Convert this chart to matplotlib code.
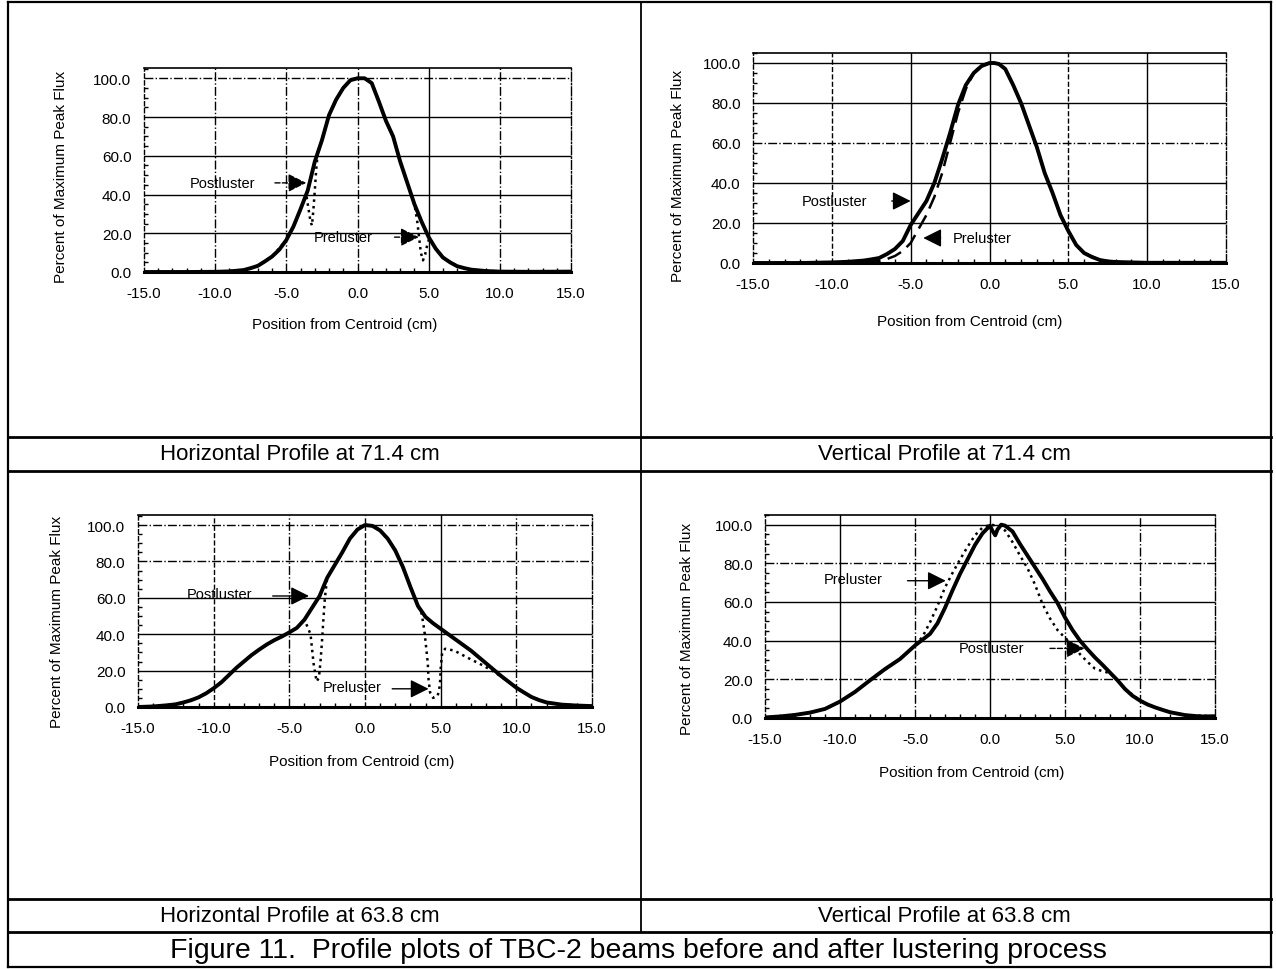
"""
Figure 11 - profile plots of TBC-2 beams before and after lustering.
Four panels in a bordered table, saved to out.png.
"""

import matplotlib
matplotlib.use("Agg")
import matplotlib.pyplot as plt
from matplotlib.lines import Line2D
from matplotlib.ticker import MultipleLocator, FormatStrFormatter

plt.rcParams.update({
    "font.family": ["Liberation Sans", "DejaVu Sans"],
    "font.size": 10.5,
})

# ── Data ────────────────────────────────────────────────────────────────────
x_ticks = [-15, -10, -5, 0, 5, 10, 15]
y_ticks = [0, 20, 40, 60, 80, 100]

row_labels = [["Horizontal Profile at 71.4 cm", "Vertical Profile at 71.4 cm"],
              ["Horizontal Profile at 63.8 cm", "Vertical Profile at 63.8 cm"]]
caption = "Figure 11.  Profile plots of TBC-2 beams before and after lustering process"

# (a) horizontal, 71.4 cm
h71_post_x = [-15, -12, -10, -9, -8, -7.5, -7, -6.5, -6, -5.5, -5, -4.5, -4, -3.5, -3, -2.5,
              -2, -1.5, -1, -0.5, 0, 0.5, 1, 1.5, 2, 2.5, 3, 3.5, 4, 4.5, 5, 5.5, 6, 6.5,
              7, 7.5, 8, 9, 10, 12, 15]
h71_post_y = [0, 0, 0.1, 0.3, 1.0, 2.0, 3.2, 5.5, 8, 11.5, 16.5, 23.5, 32.5, 42, 57, 68,
              81, 89, 95, 99, 100, 100, 97.5, 88, 78, 70, 57, 46, 35, 26, 18, 12, 7.5, 5,
              3, 2, 1.2, 0.5, 0.2, 0.1, 0.2]
h71_pre_x = [-15, -10, -8, -7, -6, -5, -4.5, -4, -3.6, -3.45, -3.3, -3.2, -3.1, -3.0, -2.9,
             -2.8, -2.5, -2, -1.5, -1, -0.5, 0, 0.5, 1, 1.5, 2, 2.5, 3, 3.5, 4, 4.2, 4.45,
             4.6, 4.75, 4.9, 5.05, 5.5, 6, 7, 8, 10, 15]
h71_pre_y = [0, 0.1, 1.0, 3.2, 8, 16.5, 23.5, 32.5, 40, 33, 26, 24, 32, 42, 53,
             61, 68, 81, 89, 95, 99, 100, 100, 97.5, 88, 78, 70, 57, 46, 35, 26, 10,
             6, 9, 14, 17.5, 12, 7.5, 3, 1.2, 0.2, 0.2]

# (b) vertical, 71.4 cm
v71_post_x = [-15, -12, -10, -9, -8, -7.5, -7, -6.5, -6, -5.5, -5, -4.5, -4, -3.5, -3, -2.5,
              -2, -1.5, -1, -0.5, 0, 0.3, 0.6, 1, 1.5, 2, 2.5, 3, 3.5, 4, 4.5, 5, 5.5, 6,
              6.5, 7, 7.5, 8, 9, 10, 12, 15]
v71_post_y = [0, 0, 0.3, 0.6, 1.2, 1.8, 2.5, 4.5, 7, 11, 19, 25, 31, 40, 52, 65,
              79, 89, 95, 98.5, 100, 100, 99.5, 97, 89, 80, 69, 58, 45, 35, 24, 16, 9, 5,
              3, 1.5, 0.8, 0.5, 0.3, 0.1, 0.1, 0.1]
v71_pre_x = [-15, -10, -8, -7, -6.5, -6, -5.5, -5, -4.5, -4, -3.5, -3, -2.5, -2, -1.5, -1,
             -0.5, 0, 0.3, 0.6, 1, 1.5, 2, 2.5, 3, 3.5, 4, 4.5, 5, 5.5, 6, 7, 8, 10, 15]
v71_pre_y = [0, 0.1, 0.3, 1, 2, 3.5, 6, 10, 17, 24, 33, 45, 60, 75, 87, 95,
             99, 100, 100, 99.5, 97, 89, 80, 69, 58, 45, 35, 24, 16, 9, 5, 1.5, 0.5, 0.1, 0.1]

# (c) horizontal, 63.8 cm
h64_post_x = [-15, -14, -13, -12.5, -12, -11.5, -11, -10.5, -10, -9.5, -9, -8.5, -8, -7.5,
              -7, -6.5, -6, -5.5, -5, -4.5, -4, -3.5, -3, -2.5, -2, -1.5, -1, -0.5, 0,
              0.5, 1, 1.5, 2, 2.5, 3, 3.5, 4, 4.5, 5, 5.5, 6, 6.5, 7, 7.5, 8, 8.5, 9,
              9.5, 10, 10.5, 11, 11.5, 12, 13, 14, 15]
h64_post_y = [0, 0.3, 1.0, 1.5, 2.5, 3.7, 5.3, 7.5, 10.3, 13.5, 17.5, 21.5, 25, 28.5,
              31.5, 34.3, 36.7, 38.7, 41, 43.5, 48, 54.5, 61, 71, 78, 85, 92.5, 97.5, 100,
              99.5, 97, 92.5, 86, 77, 66, 55.5, 49.5, 46, 43, 40, 37, 34, 31, 27.5, 24, 20.5, 17,
              13.8, 10.6, 8, 5.5, 3.8, 2.5, 1.3, 0.8, 0.5]
h64_pre_x = [-15, -13, -12, -11, -10, -9, -8, -7, -6, -5, -4.5, -4, -3.6, -3.5, -3.4, -3.2,
             -3.05, -2.95, -2.85, -2.75, -2.65, -2.5, -2, -1.5, -1, -0.5, 0, 0.5, 1, 1.5,
             2, 2.5, 3, 3.5, 3.7, 3.85, 3.95, 4.05, 4.15, 4.2, 4.3, 4.5, 4.8, 4.95, 5.0,
             5.1, 5.3, 5.9, 6.8, 7.75, 8.6, 9.1, 9.5, 10, 11, 12, 13, 15]
h64_pre_y = [0, 1.0, 2.5, 5.3, 10.3, 17.5, 25, 31.5, 36.7, 41, 43.5, 48, 40, 32, 24, 14,
             16, 24, 35, 48, 60, 71, 78, 85, 92.5, 97.5, 100, 99.5, 97, 92.5,
             86, 77, 66, 55.5, 53, 46, 40, 32, 24, 15, 8, 5, 6, 12, 21,
             30, 32, 31, 27, 23, 19, 16, 13.8, 10.6, 5.5, 2.5, 1.3, 0.5]

# (d) vertical, 63.8 cm
v64_post_x = [-15, -14, -13, -12, -11, -10, -9, -8, -7, -6, -5, -4, -3.5, -3, -2.5, -2,
              -1.5, -1, -0.5, 0, 0.15, 0.35, 0.5, 0.75, 1, 1.5, 2, 2.5, 3, 3.5, 4, 4.5, 5,
              5.5, 6, 6.5, 7, 7.5, 8, 8.5, 9, 9.5, 10, 10.5, 11, 11.5, 12, 13, 14, 15]
v64_post_y = [0.3, 0.8, 1.6, 2.8, 4.7, 8.5, 13.5, 19.5, 25.3, 30.5, 37.5, 43.5, 49, 57, 66,
              74.5, 82, 89.5, 95.5, 99.5, 97, 94.5, 97.5, 100, 99.5, 96.5, 90, 84, 78, 72,
              65.5, 59.5, 52, 45.5, 40, 35.5, 31.3, 27.5, 23.5, 19.5, 15, 11.5, 9, 7, 5.5,
              4.2, 3, 1.5, 0.8, 0.9]
v64_pre_x = [-15, -14, -13, -12, -11, -10, -9, -8, -7, -6, -5, -4.5, -4, -3.5, -3, -2.5,
             -2, -1.5, -1, -0.5, 0, 0.5, 1, 1.5, 2, 2.5, 3, 3.5, 4, 4.5, 5, 5.5, 6, 6.5,
             7, 7.5, 8, 8.5, 9, 10, 11, 12, 13, 15]
v64_pre_y = [0.3, 0.8, 1.6, 2.8, 4.7, 8.5, 13.5, 19.5, 25, 30.5, 37.5, 42, 49.5, 58, 67.5,
             75, 82, 88.5, 94.5, 98.5, 100, 99.5, 97, 91, 84, 77.5, 69, 59, 51.5, 45.5, 41.5,
             38, 33, 29, 25.5, 24.2, 23.2, 19.5, 15, 9, 5.5, 3, 1.5, 0.9]

# ── Layout (pixel geometry of the scanned page) ─────────────────────────────
W, H = 1276, 970


def fx(px):
    return px / W


def fy(py):
    return 1 - py / H


fig = plt.figure(figsize=(W / 100, H / 100), dpi=100)

# panel: axes box (left, right, top, bottom), y upper limit, ylabel centre, xlabel centre,
# notes: (label, text position, arrow tip, arrow tail, shaft style)
panels = [
    dict(box=(144, 571, 69, 273), ytop=105.3, ylab=(61, 177), xlab=(345, 325),
         post=(h71_post_x, h71_post_y), pre=(h71_pre_x, h71_pre_y), pre_ls=":",
         notes=[("Postluster", (-11.8, 46), (-3.6, 46), (-5.8, 46), "--"),
                ("Preluster", (-3.1, 18), (4.3, 18), (2.6, 18), "--")],
         vstyles=["-.", "-.", "-.", "-", "-."], hstyles=["-.", "-", "-", "-", "-"]),
    dict(box=(753, 1226, 54, 264), ytop=105.0, ylab=(678, 176), xlab=(970, 322),
         post=(v71_post_x, v71_post_y), pre=(v71_pre_x, v71_pre_y), pre_ls=(0, (6, 3)),
         notes=[("Postluster", (-11.9, 31), (-5.0, 31), (-6.2, 31), "-"),
                ("Preluster", (-2.3, 12.5), (-4.2, 12.5), (-3.1, 12.5), "-")],
         vstyles=["--", "-", "-", "--", "-"], hstyles=["-", "-", "-.", "-", "-"]),
    dict(box=(138, 592, 516, 708), ytop=105.5, ylab=(57, 622), xlab=(362, 762),
         post=(h64_post_x, h64_post_y), pre=(h64_pre_x, h64_pre_y), pre_ls=":",
         notes=[("Postluster", (-11.8, 62), (-3.7, 61), (-6.1, 61), "-"),
                ("Preluster", (-2.8, 11), (4.2, 10), (1.8, 10), "-")],
         vstyles=["--", "-.", "--", "-", "-."], hstyles=["-.", "-.", "-", "-", "-"]),
    dict(box=(765, 1215, 516, 719), ytop=105.0, ylab=(687, 629), xlab=(972, 773),
         post=(v64_post_x, v64_post_y), pre=(v64_pre_x, v64_pre_y), pre_ls=":",
         notes=[("Preluster", (-11.1, 72), (-2.95, 71), (-5.5, 71), "-"),
                ("Postluster", (-2.1, 36), (6.3, 36), (4.0, 36), "--")],
         vstyles=["-", "-.", "-", "-.", "-."], hstyles=["-", "-.", "-", "-", "-."]),
]

for p in panels:
    left, right, top, bottom = p["box"]
    ax = fig.add_axes([fx(left), fy(bottom), (right - left) / W, (bottom - top) / H])
    ax.set_xlim(-15, 15)
    ax.set_ylim(0, p["ytop"])

    # grid drawn by hand so each line can keep the scan's mixed dash styles
    for xv, ls in zip([-10, -5, 0, 5, 10], p["vstyles"]):
        ax.axvline(xv, color="black", lw=1.0, ls=ls, zorder=1)
    for yv, ls in zip([100, 80, 60, 40, 20], p["hstyles"]):
        ax.axhline(yv, color="black", lw=1.0, ls=ls, zorder=1)

    ax.plot(p["pre"][0], p["pre"][1], color="black", lw=1.8, ls=p["pre_ls"], zorder=3)
    ax.plot(p["post"][0], p["post"][1], color="black", lw=2.8, zorder=4,
            solid_joinstyle="round")

    for label, txt_xy, tip, tail, shaft in p["notes"]:
        ax.text(txt_xy[0], txt_xy[1], label, fontsize=10.5, va="center", ha="left", zorder=5)
        ax.annotate("", xy=tip, xytext=tail,
                    arrowprops=dict(arrowstyle="-|>", color="black", lw=1.0, ls=shaft,
                                    mutation_scale=28, shrinkA=0, shrinkB=0), zorder=5)

    ax.set_xticks(x_ticks)
    ax.set_yticks(y_ticks)
    ax.xaxis.set_major_formatter(FormatStrFormatter("%.1f"))
    ax.yaxis.set_major_formatter(FormatStrFormatter("%.1f"))
    ax.xaxis.set_minor_locator(MultipleLocator(1))
    ax.yaxis.set_minor_locator(MultipleLocator(5))
    ax.tick_params(which="major", direction="in", length=0, pad=9, labelsize=11)
    ax.tick_params(which="minor", direction="in", length=3, width=1.0)
    ax.tick_params(axis="x", which="major", pad=10)

    ax.spines["bottom"].set_linewidth(2.2)
    ax.spines["top"].set_linewidth(1.2)
    ax.spines["left"].set_linewidth(1.0)
    ax.spines["left"].set_linestyle((0, (3, 2)))
    ax.spines["right"].set_linewidth(1.0)
    ax.spines["right"].set_linestyle("-.")

    fig.text(fx(p["ylab"][0]), fy(p["ylab"][1]), "Percent of Maximum Peak Flux",
             rotation=90, ha="center", va="center", fontsize=11)
    fig.text(fx(p["xlab"][0]), fy(p["xlab"][1]), "Position from Centroid (cm)",
             ha="center", va="center", fontsize=11)

# ── Table rules ─────────────────────────────────────────────────────────────
def rule(x0, y0, x1, y1, lw=1.6):
    fig.add_artist(Line2D([fx(x0), fx(x1)], [fy(y0), fy(y1)], color="black", lw=lw))


rule(8, 3, 1271, 3)
rule(8, 3, 8, 968)
rule(1271, 3, 1271, 968)
rule(8, 968, 1271, 968)
rule(641, 3, 641, 933, lw=1.3)
for yy in [438, 472, 900, 933]:
    rule(8, yy, 1271, yy, lw=2.0)

fig.text(fx(300), fy(455), row_labels[0][0], ha="center", va="center", fontsize=16)
fig.text(fx(944), fy(455), row_labels[0][1], ha="center", va="center", fontsize=16)
fig.text(fx(300), fy(917), row_labels[1][0], ha="center", va="center", fontsize=16)
fig.text(fx(944), fy(917), row_labels[1][1], ha="center", va="center", fontsize=16)
fig.text(fx(638), fy(951), caption, ha="center", va="center", fontsize=20.5)

fig.savefig("out.png", dpi=100)
